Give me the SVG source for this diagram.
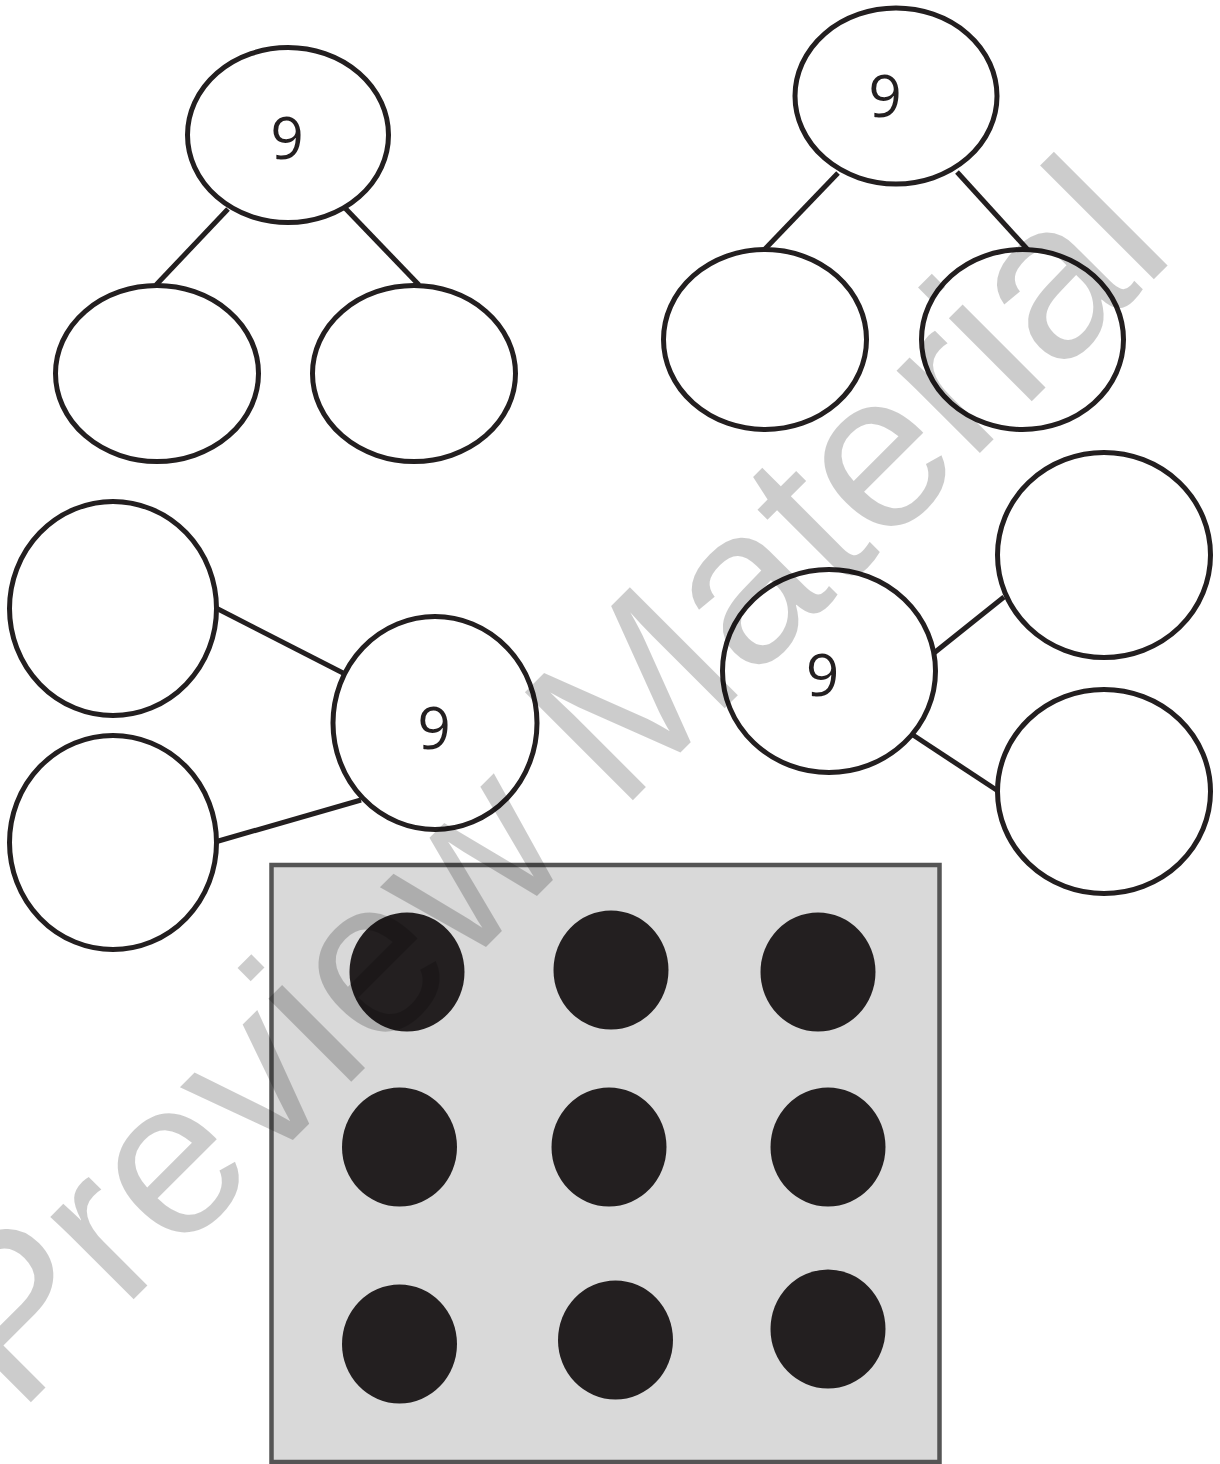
<svg xmlns="http://www.w3.org/2000/svg" width="1220" height="1464" viewBox="0 0 1220 1464">
<style>
  .bond { fill: #ffffff; stroke: #231f20; stroke-width: 5; }
  .conn { stroke: #231f20; stroke-width: 5; fill: none; }
  .num { font-family: "Open Sans", "Noto Sans", "Liberation Sans", sans-serif; font-size: 58px; fill: #231f20; text-anchor: middle; }
  .dot { fill: #231f20; }
  .wm { font-family: "Liberation Sans", Arial, sans-serif; font-size: 222px; fill: #000000; fill-opacity: 0.2; }
</style>
<rect x="0" y="0" width="1220" height="1464" fill="#ffffff"/>

<g id="connectors">
  <line class="conn" x1="228" y1="209" x2="156" y2="285"/>
  <line class="conn" x1="345" y1="208" x2="419" y2="285"/>
  <line class="conn" x1="838" y1="173" x2="765" y2="249"/>
  <line class="conn" x1="957" y1="172" x2="1028" y2="250"/>
  <line class="conn" x1="216" y1="608" x2="343" y2="673"/>
  <line class="conn" x1="215" y1="842" x2="361" y2="800"/>
  <line class="conn" x1="934" y1="653" x2="1004" y2="597"/>
  <line class="conn" x1="913" y1="735" x2="998" y2="791"/>
</g>

<g id="bond1-top"><ellipse class="bond" cx="288" cy="135" rx="100.5" ry="87.5"/><text class="num" x="287" y="159">9</text></g>
<g id="bond1-left"><ellipse class="bond" cx="157" cy="373.5" rx="101.5" ry="88"/></g>
<g id="bond1-right"><ellipse class="bond" cx="414" cy="373.5" rx="101.5" ry="88"/></g>

<g id="bond2-top"><ellipse class="bond" cx="896" cy="96" rx="101" ry="88"/><text class="num" x="885" y="117">9</text></g>
<g id="bond2-left"><ellipse class="bond" cx="765" cy="339.5" rx="101.5" ry="90"/></g>
<g id="bond2-right"><ellipse class="bond" cx="1022.5" cy="339.5" rx="101" ry="90"/></g>

<g id="bond3-top"><ellipse class="bond" cx="113" cy="608.5" rx="103.5" ry="107"/></g>
<g id="bond3-bottom"><ellipse class="bond" cx="113" cy="842.5" rx="103.5" ry="107"/></g>
<g id="bond3-whole"><ellipse class="bond" cx="435" cy="723" rx="102" ry="106.5"/><text class="num" x="434" y="749">9</text></g>

<g id="bond4-whole"><ellipse class="bond" cx="829" cy="671" rx="106.5" ry="101.5"/><text class="num" x="822.5" y="696">9</text></g>
<g id="bond4-top"><ellipse class="bond" cx="1104" cy="555" rx="106.5" ry="102.5"/></g>
<g id="bond4-bottom"><ellipse class="bond" cx="1104" cy="791.5" rx="106.5" ry="102"/></g>

<g id="dot-frame">
  <rect x="271.5" y="865" width="668" height="597" fill="#d9d9d9" stroke="#555555" stroke-width="4.5"/>
  <ellipse class="dot" cx="407" cy="972" rx="57.5" ry="59.5"/>
  <ellipse class="dot" cx="611" cy="970" rx="57.5" ry="59.5"/>
  <ellipse class="dot" cx="818" cy="972" rx="57.5" ry="59.5"/>
  <ellipse class="dot" cx="399.5" cy="1147" rx="57.5" ry="59.5"/>
  <ellipse class="dot" cx="609" cy="1147" rx="57.5" ry="59.5"/>
  <ellipse class="dot" cx="828" cy="1147" rx="57.5" ry="59.5"/>
  <ellipse class="dot" cx="399.5" cy="1344" rx="57.5" ry="59.5"/>
  <ellipse class="dot" cx="615.5" cy="1340" rx="57.5" ry="59.5"/>
  <ellipse class="dot" cx="828" cy="1329" rx="57.5" ry="59.5"/>
</g>

<text class="wm" transform="translate(18,1415) rotate(-45)">Preview Material</text>
</svg>
